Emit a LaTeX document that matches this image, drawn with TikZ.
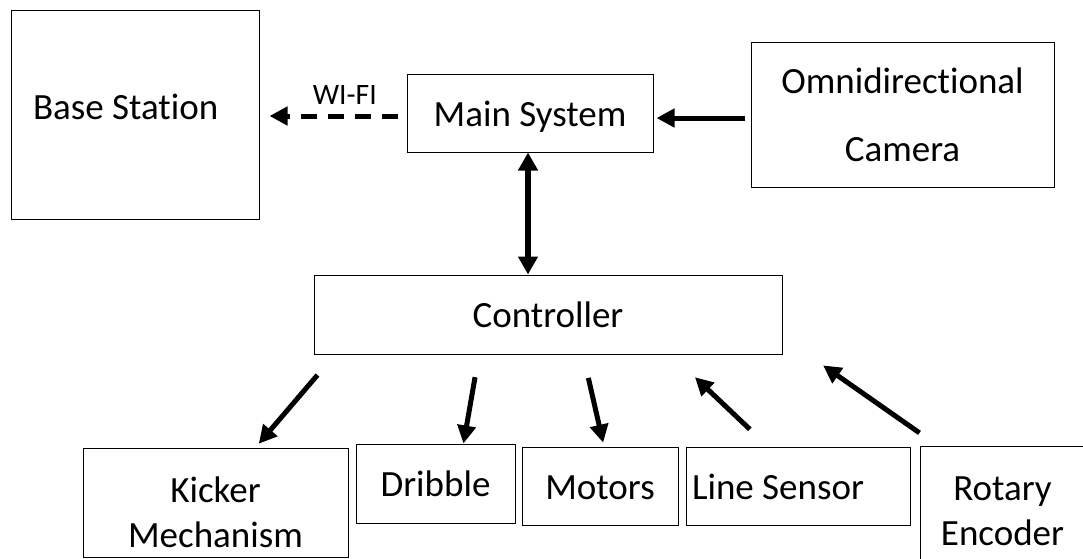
\documentclass[tikz,border=0pt]{standalone}
\usepackage{fontspec}
\setmainfont{Carlito}[Ligatures=NoCommon]
\usetikzlibrary{arrows.meta}

\begin{document}
\begin{tikzpicture}[x=1pt, y=-1pt,
    block/.style = {draw, line width=1pt, inner sep=0pt, align=center,
                    font=\fontsize{37}{45}\selectfont},
    oneline/.style = {text height=30pt, text depth=4pt},
    link/.style = {line width=5pt, -{Triangle[length=18pt,width=18pt]}}]
\clip (0,0) rectangle (1083,558);
\node[block, minimum width=248pt, minimum height=209pt, text width=204pt, align=flush left,
      text height=24pt, text depth=15pt] (base) at (135,114.5) {Base Station};
\node[block, oneline, minimum width=246pt, minimum height=78pt] (main) at (530,113) {Main System};
\node[block, minimum width=303pt, minimum height=145pt] (cam) at (902.5,114.5) {Omnidirectional\\[23pt]Camera};
\node[block, oneline, minimum width=468pt, minimum height=79pt] (ctrl) at (548,314.5) {Controller};
\node[block, minimum width=265pt, minimum height=109pt, text height=90pt, text depth=1pt] (kick) at (215.5,502.5) {Kicker\\Mechanism};
\node[block, oneline, minimum width=159pt, minimum height=79pt] (drib) at (435.5,483.5) {Dribble};
\node[block, oneline, minimum width=156pt, minimum height=78pt] (mot) at (600,486) {Motors};
\node[block, oneline, minimum width=224pt, minimum height=78pt, text width=212pt, align=flush left] (sens) at (798,486) {Line Sensor};
\node[block, minimum width=165pt, minimum height=114pt, text height=86pt, text depth=2pt] (rot) at (1002.5,503) {Rotary\\Encoder};
\draw[link, dash pattern=on 16pt off 11pt, shorten <=9pt, shorten >=10pt]
    ([yshift=-3pt]main.west) -- ([yshift=-3pt]main.west -| base.east)
    node[pos=0.42, above=9pt, inner sep=0pt, font=\fontsize{29.6}{35}\selectfont] (wifi) {WI-FI};
\draw[link, shorten <=6pt, shorten >=3pt] ([yshift=-3.5pt]cam.west) -- ([yshift=-3.5pt]cam.west -| main.east);
\draw[link, line width=6pt, {Triangle[length=18pt,width=19pt]}-{Triangle[length=18pt,width=19pt]}]
    ([xshift=-2pt]main.south) -- ([xshift=-2pt]main.south |- ctrl.north);
\draw[link, shorten <=27pt, shorten >=5pt] ([xshift=-213pt]ctrl.south) -- ([xshift=40pt]kick.north);
\draw[link, shorten <=23pt] ([xshift=-69pt]ctrl.south) -- ([xshift=28pt]drib.north);
\draw[link, shorten <=24pt, shorten >=4pt] ([xshift=35pt]ctrl.south) -- ([xshift=4pt]mot.north);
\draw[link, shorten <=25pt, shorten >=33pt] ([xshift=-30pt]sens.north) -- ([xshift=123pt]ctrl.south);
\draw[link, shorten <=22pt, shorten >=19pt] ([xshift=-65pt]rot.north) -- ([xshift=259.5pt]ctrl.south);
\end{tikzpicture}
\end{document}
